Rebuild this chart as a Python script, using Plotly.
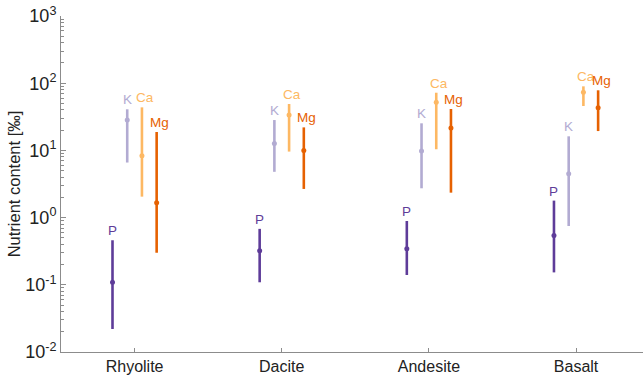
import math
import plotly.graph_objects as go

rocks = ["Rhyolite", "Dacite", "Andesite", "Basalt"]
nutrients = ["P", "K", "Ca", "Mg"]
colors = {"P": "#5e3c99", "K": "#b2abd2", "Ca": "#fdb863", "Mg": "#e66101"}

# median, lower, upper (per mille), one entry per rock
P_mid = [0.109, 0.322, 0.345, 0.54]
P_low = [0.022, 0.109, 0.14, 0.153]
P_high = [0.46, 0.68, 0.89, 1.79]

K_mid = [28.3, 12.7, 9.8, 4.5]
K_low = [6.6, 4.8, 2.73, 0.75]
K_high = [40.9, 28.3, 25.3, 16.2]

Ca_mid = [8.3, 33.6, 51.9, 73.1]
Ca_low = [2.05, 9.6, 10.4, 45.8]
Ca_high = [43.7, 49.0, 72.2, 89.8]

Mg_mid = [1.67, 10.0, 21.5, 43.2]
Mg_low = [0.30, 2.67, 2.35, 19.4]
Mg_high = [18.8, 22.0, 41.3, 78.4]

series = {
    "P": (P_mid, P_low, P_high),
    "K": (K_mid, K_low, K_high),
    "Ca": (Ca_mid, Ca_low, Ca_high),
    "Mg": (Mg_mid, Mg_low, Mg_high),
}
offsets = {"P": -0.15, "K": -0.05, "Ca": 0.05, "Mg": 0.15}
label_shift = {"P": 0, "K": 0, "Ca": 3, "Mg": 3}

font_family = "Liberation Sans, Arial, sans-serif"
axis_color = "#8c8c8c"

fig = go.Figure()
annotations = []
for n in nutrients:
    mid, low, high = series[n]
    xs = [i + offsets[n] for i in range(len(rocks))]
    fig.add_trace(go.Scatter(
        x=xs, y=mid, mode="markers",
        marker=dict(color=colors[n], size=5),
        error_y=dict(type="data", symmetric=False,
                     array=[h - m for h, m in zip(high, mid)],
                     arrayminus=[m - l for m, l in zip(mid, low)],
                     color=colors[n], thickness=2.6, width=0),
        showlegend=False, name=n,
    ))
    for x, h in zip(xs, high):
        annotations.append(dict(
            x=x, y=math.log10(h), xref="x", yref="y", text=n,
            showarrow=False, yanchor="bottom", xanchor="center",
            yshift=0, xshift=label_shift[n],
            font=dict(family=font_family, size=13.5, color=colors[n]),
        ))

tick_exps = [-2, -1, 0, 1, 2, 3]
tick_vals = [10 ** e for e in tick_exps]
tick_text = ["10<sup>%s</sup>" % (str(e) if e >= 0 else "-" + str(-e)) for e in tick_exps]
minor_vals = [d * 10 ** e for e in tick_exps[:-1] for d in range(2, 10)]

fig.update_layout(
    width=644, height=378, autosize=False,
    margin=dict(l=61, r=1, t=16, b=26),
    paper_bgcolor="white", plot_bgcolor="white",
    font=dict(family=font_family, color="#222222"),
    annotations=annotations,
    xaxis=dict(
        range=[-0.5, 3.455], tickmode="array",
        tickvals=list(range(len(rocks))), ticktext=rocks,
        showline=True, linecolor=axis_color, linewidth=1,
        ticks="inside", ticklen=4, tickcolor=axis_color,
        showgrid=False, zeroline=False, automargin=False,
        tickfont=dict(size=16, color="#222222"),
    ),
    yaxis=dict(
        type="log", range=[-2, 3],
        tickmode="array", tickvals=tick_vals, ticktext=tick_text,
        showline=True, linecolor=axis_color, linewidth=1,
        ticks="inside", ticklen=5, tickcolor=axis_color,
        minor=dict(ticks="inside", ticklen=2.5, tickcolor=axis_color,
                   tickmode="array", tickvals=minor_vals, showgrid=False),
        showgrid=False, zeroline=False, automargin=False,
        tickfont=dict(size=18, color="#222222"),
        title=dict(text="Nutrient content [‰]", standoff=0,
                   font=dict(size=16.5, color="#222222")),
    ),
)

fig.write_html(
    "out.html",
    config={"responsive": False, "displayModeBar": False},
    post_script="document.body.style.margin='0';document.body.style.overflow='hidden';",
)
